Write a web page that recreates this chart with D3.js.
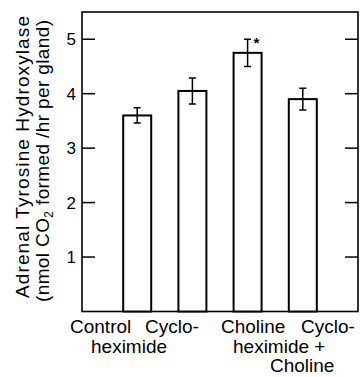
<!DOCTYPE html>
<meta charset="utf-8">
<script src="https://d3js.org/d3.v7.min.js"></script>
<style>
body { margin: 0; background: #fff; }
svg { display: block; }
text { font-family: "Liberation Sans", Arial, sans-serif; fill: #000; }
.frame { fill: none; stroke: #000; stroke-width: 1.6px; }
.bar { fill: #fff; stroke: #000; stroke-width: 2px; }
.err { stroke: #000; stroke-width: 1.5px; fill: none; }
.tick { stroke: #000; stroke-width: 1.5px; }
</style>
<svg width="360" height="377"></svg>
<script>

// group names, mean activity and s.e.m.
var groups = ["Control", "Cycloheximide", "Choline", "Cycloheximide + Choline"];
var means = [3.6, 4.05, 4.75, 3.9];
var errs = [0.14, 0.24, 0.25, 0.2];
var signif = [false, false, true, false];
var yTicks = [1, 2, 3, 4, 5];

// category labels, split the way the figure sets them (word, line, x start)
var labelWords = ["Control", "Cyclo-", "heximide", "Choline", "Cyclo-", "heximide +", "Choline"];
var labelLines = [0, 0, 1, 0, 0, 1, 2];
var labelX = [70, 145, 91, 221, 301, 233, 270];

var svg = d3.select("svg");
var mLeft = 82, mRight = 358, mTop = 12, mBottom = 311.5;

var x = d3.scalePoint().domain(groups).range([mLeft, mRight]).padding(1);
var y = d3.scaleLinear().domain([0, 5.5]).range([mBottom, mTop]);
var barW = 28;

// frame
svg.append("rect").attr("class", "frame")
    .attr("x", mLeft).attr("y", mTop)
    .attr("width", mRight - mLeft).attr("height", mBottom - mTop);

// inward ticks on both sides
svg.selectAll(".tl").data(yTicks).enter().append("line")
    .attr("class", "tick")
    .attr("x1", mLeft).attr("x2", mLeft + 13)
    .attr("y1", y).attr("y2", y);
svg.selectAll(".tr").data(yTicks).enter().append("line")
    .attr("class", "tick")
    .attr("x1", mRight - 13).attr("x2", mRight)
    .attr("y1", y).attr("y2", y);
svg.selectAll(".tlab").data(yTicks).enter().append("text")
    .attr("x", 76).attr("y", function(d) { return y(d) + 6; })
    .attr("text-anchor", "end")
    .style("font-size", "17px")
    .text(function(d) { return d; });

// bars
var g = svg.selectAll(".grp").data(groups).enter().append("g");
g.append("rect").attr("class", "bar")
    .attr("x", function(d) { return x(d) - barW / 2; })
    .attr("y", function(d, i) { return y(means[i]); })
    .attr("width", barW)
    .attr("height", function(d, i) { return mBottom - y(means[i]); });

// error bars
g.append("path").attr("class", "err")
    .attr("d", function(d, i) {
      var cx = x(d), hi = y(means[i] + errs[i]), lo = y(means[i] - errs[i]);
      return "M" + (cx - 3.5) + "," + hi + "H" + (cx + 3.5)
          + "M" + cx + "," + hi + "V" + lo
          + "M" + (cx - 3.5) + "," + lo + "H" + (cx + 3.5);
    });

g.filter(function(d, i) { return signif[i]; }).append("text")
    .attr("x", function(d) { return x(d) + 6; })
    .attr("y", function(d) { var i = groups.indexOf(d); return y(means[i] + errs[i]) + 9; })
    .style("font-size", "15px")
    .style("font-weight", "bold")
    .text("*");

// axis labels under the frame
svg.selectAll(".xl").data(labelWords).enter().append("text")
    .attr("x", function(d, i) { return labelX[i]; })
    .attr("y", function(d, i) { return 333 + labelLines[i] * 19.5; })
    .style("font-size", "19px")
    .text(function(d) { return d; });

// y title
svg.append("text")
    .attr("transform", "translate(29,157) rotate(-90)")
    .attr("text-anchor", "middle")
    .attr("textLength", 282).attr("lengthAdjust", "spacing")
    .style("font-size", "19px")
    .text("Adrenal Tyrosine Hydroxylase");

var t2 = svg.append("text")
    .attr("transform", "translate(49,161) rotate(-90)")
    .attr("text-anchor", "middle")
    .attr("textLength", 282).attr("lengthAdjust", "spacing")
    .style("font-size", "19px");
t2.append("tspan").text("(nmol CO");
t2.append("tspan").attr("dy", 4).style("font-size", "12px").text("2");
t2.append("tspan").attr("dy", -4).text(" formed /hr per gland)");

</script>
